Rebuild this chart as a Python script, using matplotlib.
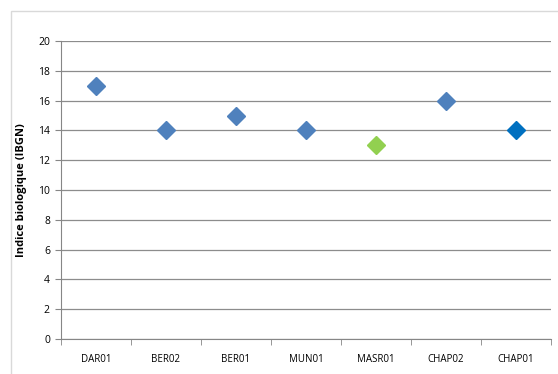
import matplotlib.pyplot as plt
from matplotlib.patches import Rectangle

# stations and IBGN values
stations = ['DAR01', 'BER02', 'BER01', 'MUN01', 'MASR01', 'CHAP02', 'CHAP01']
ibgn = [17, 14, 15, 14, 13, 16, 14]
colors = ['#4F81BD', '#4F81BD', '#4F81BD', '#4F81BD', '#92D050', '#4F81BD', '#0070C0']

plt.rcParams['font.family'] = ['Open Sans', 'DejaVu Sans']

fig = plt.figure(figsize=(5.58, 3.74), dpi=100)
fig.patches.append(Rectangle((11 / 558, -0.1), 1.2, (363 / 374) + 0.1, transform=fig.transFigure,
                             fill=False, edgecolor='#D9D9D9', linewidth=1))
ax = fig.add_axes([61 / 558, 35 / 374, 490 / 558, 298 / 374])

x = list(range(len(stations)))
for xi, v, c in zip(x, ibgn, colors):
    ax.plot(xi, v, 'D', color=c, markersize=9, zorder=3)

ax.set_xlim(-0.5, len(stations) - 0.5)
ax.set_ylim(0, 20)
ax.set_yticks(range(0, 21, 2))
ax.set_xticks(x)
ax.set_xticklabels(stations)
ax.set_xticks([i + 0.5 for i in range(-1, len(stations))], minor=True)
ax.tick_params(axis='x', which='major', length=0, pad=11, labelsize=7)
ax.tick_params(axis='x', which='minor', length=4, color='#868686', direction='out')
ax.tick_params(axis='y', length=4, color='#868686', labelsize=7.5, pad=4)

ax.grid(axis='y', color='#8C8C8C', linewidth=0.9)
ax.set_axisbelow(True)
for s in ['top', 'right']:
    ax.spines[s].set_visible(False)
ax.spines['left'].set_color('#868686')
ax.spines['bottom'].set_color('#868686')

ax.set_ylabel('Indice biologique (IBGN)', fontsize=8, fontweight='bold', labelpad=8)

fig.savefig('out.png', dpi=100)
